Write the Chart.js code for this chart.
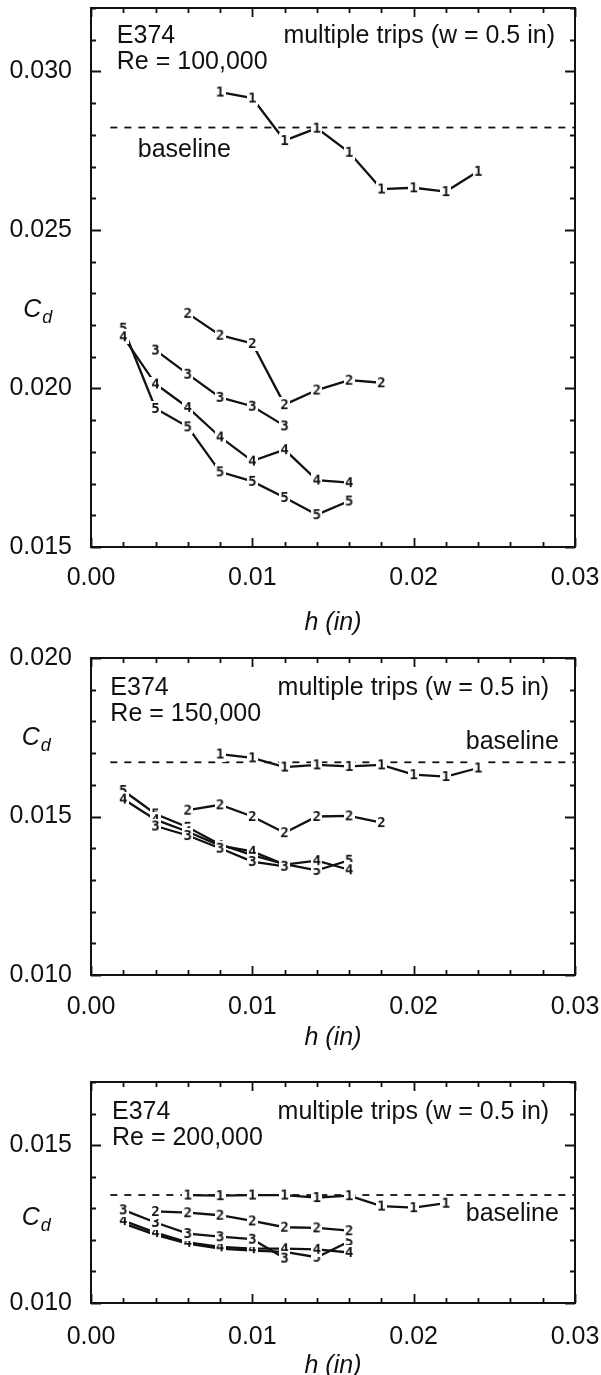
<!DOCTYPE html>
<html>
<head>
<meta charset="utf-8">
<script src="https://cdn.jsdelivr.net/npm/chart.js@4.4.1/dist/chart.umd.min.js"></script>
<style>
  html, body { margin: 0; padding: 0; background: #fff; }
  body { width: 601px; height: 1375px; position: relative; overflow: hidden; }
  canvas { position: absolute; left: 0; }
</style>
</head>
<body>
<canvas id="re100" width="601" height="650" style="top:0px"></canvas>
<canvas id="re150" width="601" height="420" style="top:645px"></canvas>
<canvas id="re200" width="601" height="330" style="top:1060px"></canvas>
<script>
// C_d vs trip height h for the E374 airfoil with multiple trips, three Reynolds numbers.
// Each trip count is drawn as its own digit marker joined by straight lines.

// shared axis values
const X_TICKS = [0, 0.01, 0.02, 0.03];
const X_MINOR_STEP = 0.002;
const Y_MINOR_STEP = 0.001;

// Re = 100,000
const Y_TICKS_100K = [0.015, 0.020, 0.025, 0.030];
const BASELINE_100K = 0.02823;
const H_TRIP1_100K = [0.008, 0.010, 0.012, 0.014, 0.016, 0.018, 0.020, 0.022, 0.024];
const CD_TRIP1_100K = [0.02935, 0.02916, 0.02782, 0.02821, 0.02745, 0.02629, 0.02633, 0.02621, 0.02685];
const H_TRIP2_100K = [0.006, 0.008, 0.010, 0.012, 0.014, 0.016, 0.018];
const CD_TRIP2_100K = [0.02237, 0.02168, 0.02142, 0.01949, 0.01995, 0.02026, 0.02018];
const H_TRIP3_100K = [0.004, 0.006, 0.008, 0.010, 0.012];
const CD_TRIP3_100K = [0.02121, 0.02045, 0.01972, 0.01944, 0.01882];
const H_TRIP4_100K = [0.002, 0.004, 0.006, 0.008, 0.010, 0.012, 0.014, 0.016];
const CD_TRIP4_100K = [0.02163, 0.02014, 0.01940, 0.01847, 0.01771, 0.01807, 0.01711, 0.01703];
const H_TRIP5_100K = [0.002, 0.004, 0.006, 0.008, 0.010, 0.012, 0.014, 0.016];
const CD_TRIP5_100K = [0.02190, 0.01937, 0.01879, 0.01737, 0.01707, 0.01656, 0.01602, 0.01645];

// Re = 150,000
const Y_TICKS_150K = [0.010, 0.015, 0.020];
const BASELINE_150K = 0.01671;
const H_TRIP1_150K = [0.008, 0.010, 0.012, 0.014, 0.016, 0.018, 0.020, 0.022, 0.024];
const CD_TRIP1_150K = [0.01697, 0.01685, 0.01656, 0.01663, 0.01658, 0.01663, 0.01632, 0.01626, 0.01653];
const H_TRIP2_150K = [0.006, 0.008, 0.010, 0.012, 0.014, 0.016, 0.018];
const CD_TRIP2_150K = [0.01520, 0.01537, 0.01500, 0.01449, 0.01500, 0.01502, 0.01481];
const H_TRIP3_150K = [0.004, 0.006, 0.008, 0.010, 0.012];
const CD_TRIP3_150K = [0.01470, 0.01440, 0.01400, 0.01358, 0.01343];
const H_TRIP4_150K = [0.002, 0.004, 0.006, 0.008, 0.010, 0.012, 0.014, 0.016];
const CD_TRIP4_150K = [0.01555, 0.01490, 0.01452, 0.01408, 0.01390, 0.01348, 0.01361, 0.01332];
const H_TRIP5_150K = [0.002, 0.004, 0.006, 0.008, 0.010, 0.012, 0.014, 0.016];
const CD_TRIP5_150K = [0.01582, 0.01508, 0.01466, 0.01412, 0.01378, 0.01350, 0.01330, 0.01362];

// Re = 200,000
const Y_TICKS_200K = [0.010, 0.015];
const BASELINE_200K = 0.01342;
const H_TRIP1_200K = [0.006, 0.008, 0.010, 0.012, 0.014, 0.016, 0.018, 0.020, 0.022];
const CD_TRIP1_200K = [0.01342, 0.01340, 0.01342, 0.01342, 0.01334, 0.01340, 0.01307, 0.01302, 0.01316];
const H_TRIP2_200K = [0.004, 0.006, 0.008, 0.010, 0.012, 0.014, 0.016];
const CD_TRIP2_200K = [0.01290, 0.01286, 0.01278, 0.01260, 0.01240, 0.01238, 0.01229];
const H_TRIP3_200K = [0.002, 0.004, 0.006, 0.008, 0.010, 0.012];
const CD_TRIP3_200K = [0.01295, 0.01255, 0.01220, 0.01210, 0.01202, 0.01142];
const H_TRIP4_200K = [0.002, 0.004, 0.006, 0.008, 0.010, 0.012, 0.014, 0.016];
const CD_TRIP4_200K = [0.01261, 0.01223, 0.01192, 0.01178, 0.01172, 0.01172, 0.01170, 0.01160];
const H_TRIP5_200K = [0.002, 0.004, 0.006, 0.008, 0.010, 0.012, 0.014, 0.016];
const CD_TRIP5_200K = [0.01252, 0.01216, 0.01188, 0.01172, 0.01166, 0.01162, 0.01145, 0.01195];

const INK = '#111';
const SANS = '"Liberation Sans", Arial, sans-serif';
const TEXT_SIZE = 25;
const BOX_LEFT = 91;
const BOX_RIGHT = 575;

const markerCache = {};
function markerFor(digit) {
  if (markerCache[digit]) return markerCache[digit];
  const c = document.createElement('canvas');
  c.width = 11;
  c.height = 15;
  const g = c.getContext('2d');
  g.fillStyle = '#fff';
  g.fillRect(0, 0, c.width, c.height);
  g.fillStyle = INK;
  g.font = 'bold 14px "DejaVu Sans Mono", monospace';
  g.textAlign = 'center';
  g.textBaseline = 'middle';
  g.fillText(digit, c.width / 2, c.height / 2 + 1);
  markerCache[digit] = c;
  return c;
}

function tripDataset(digit, hs, cds) {
  return {
    label: `trips ${digit}`,
    data: hs.map((h, i) => ({ x: h, y: cds[i] })),
    borderColor: INK,
    borderWidth: 2.3,
    tension: 0,
    fill: false,
    pointStyle: markerFor(digit),
    pointRadius: 5,
    order: 0,
  };
}

function baselineDataset(value) {
  return {
    label: 'baseline',
    data: [{ x: 0.0012, y: value }, { x: 0.03, y: value }],
    borderColor: INK,
    borderWidth: 1.8,
    borderDash: [7, 7],
    pointRadius: 0,
    fill: false,
    order: 1,
  };
}

function isMajor(v, majors) {
  return majors.some((m) => Math.abs(m - v) < 1e-9);
}

// box, inward ticks on all four sides, C_d label and the text notes
const framePlugin = {
  id: 'frame',
  afterDraw(chart, args, opts) {
    const { ctx, chartArea: a, scales: { x, y } } = chart;
    ctx.save();
    ctx.strokeStyle = INK;
    ctx.lineWidth = 2;
    ctx.strokeRect(a.left, a.top, a.right - a.left, a.bottom - a.top);

    ctx.lineWidth = 1.8;
    ctx.beginPath();
    for (let i = 0; i * X_MINOR_STEP <= x.max + 1e-9; i++) {
      const v = i * X_MINOR_STEP;
      const px = Math.round(x.getPixelForValue(v)) + 0.5;
      const len = isMajor(v, X_TICKS) ? 9 : 5;
      ctx.moveTo(px, a.bottom); ctx.lineTo(px, a.bottom - len);
      ctx.moveTo(px, a.top); ctx.lineTo(px, a.top + len);
    }
    const n = Math.round((y.max - y.min) / Y_MINOR_STEP);
    for (let i = 0; i <= n; i++) {
      const v = +(y.min + i * Y_MINOR_STEP).toFixed(4);
      const py = Math.round(y.getPixelForValue(v)) + 0.5;
      const len = isMajor(v, opts.yTicks) ? 10 : 5;
      ctx.moveTo(a.left, py); ctx.lineTo(a.left + len, py);
      ctx.moveTo(a.right, py); ctx.lineTo(a.right - len, py);
    }
    ctx.stroke();

    // C_d axis label
    ctx.fillStyle = INK;
    ctx.textBaseline = 'alphabetic';
    ctx.textAlign = 'left';
    const cx = x.getPixelForValue(opts.cdAt.x);
    const cy = y.getPixelForValue(opts.cdAt.y);
    ctx.font = `italic 25px ${SANS}`;
    ctx.fillText('C', cx, cy + 8);
    const cw = ctx.measureText('C').width;
    ctx.font = `italic 18px ${SANS}`;
    ctx.fillText('d', cx + cw + 1, cy + 14);

    ctx.font = `${TEXT_SIZE}px ${SANS}`;
    ctx.textBaseline = 'middle';
    for (const note of opts.notes) {
      ctx.textAlign = note.align;
      ctx.fillText(note.text, x.getPixelForValue(note.x), y.getPixelForValue(note.y));
    }
    ctx.restore();
  },
};

function buildPanel(id, p) {
  const canvas = document.getElementById(id);
  const H = canvas.height;
  return new Chart(canvas.getContext('2d'), {
    type: 'line',
    data: { datasets: [...p.series, baselineDataset(p.baseline)] },
    options: {
      responsive: false,
      animation: false,
      events: [],
      layout: { padding: { top: p.boxTop, right: 601 - BOX_RIGHT, left: 0, bottom: 0 } },
      scales: {
        x: {
          type: 'linear',
          min: 0,
          max: 0.03,
          grid: { display: false, drawTicks: false },
          border: { display: false },
          afterBuildTicks: (s) => { s.ticks = X_TICKS.map((v) => ({ value: v })); },
          afterFit: (s) => { s.height = H - p.boxBottom; s.paddingLeft = 0; s.paddingRight = 0; },
          ticks: {
            autoSkip: false,
            maxRotation: 0,
            padding: p.xLabelPad,
            color: INK,
            font: { family: SANS, size: TEXT_SIZE },
            callback: (v) => v.toFixed(2),
          },
          title: {
            display: true,
            text: 'h (in)',
            color: INK,
            font: { family: SANS, size: TEXT_SIZE, style: 'italic' },
            padding: { top: 0, bottom: p.titlePad },
          },
        },
        y: {
          type: 'linear',
          min: p.yMin,
          max: p.yMax,
          grid: { display: false, drawTicks: false },
          border: { display: false },
          afterBuildTicks: (s) => { s.ticks = p.yTicks.map((v) => ({ value: v })); },
          afterFit: (s) => { s.width = BOX_LEFT; s.paddingTop = 0; s.paddingBottom = 0; },
          ticks: {
            padding: 19,
            color: INK,
            font: { family: SANS, size: TEXT_SIZE },
            callback: (v) => v.toFixed(3),
          },
        },
      },
      plugins: {
        legend: { display: false },
        tooltip: { enabled: false },
        frame: { yTicks: p.yTicks, cdAt: p.cdAt, notes: p.notes },
      },
    },
    plugins: [framePlugin],
  });
}

buildPanel('re100', {
  yMin: 0.015, yMax: 0.032, yTicks: Y_TICKS_100K,
  boxTop: 8, boxBottom: 547, xLabelPad: 16, titlePad: 12,
  baseline: BASELINE_100K,
  series: [
    tripDataset('1', H_TRIP1_100K, CD_TRIP1_100K),
    tripDataset('2', H_TRIP2_100K, CD_TRIP2_100K),
    tripDataset('3', H_TRIP3_100K, CD_TRIP3_100K),
    tripDataset('4', H_TRIP4_100K, CD_TRIP4_100K),
    tripDataset('5', H_TRIP5_100K, CD_TRIP5_100K),
  ],
  cdAt: { x: -0.0042, y: 0.0225 },
  notes: [
    { text: 'E374', x: 0.0016, y: 0.03110, align: 'left' },
    { text: 'Re = 100,000', x: 0.0016, y: 0.03030, align: 'left' },
    { text: 'multiple trips (w = 0.5 in)', x: 0.02876, y: 0.03110, align: 'right' },
    { text: 'baseline', x: 0.0029, y: 0.02751, align: 'left' },
  ],
});

buildPanel('re150', {
  yMin: 0.010, yMax: 0.020, yTicks: Y_TICKS_150K,
  boxTop: 13, boxBottom: 330, xLabelPad: 17, titlePad: 12,
  baseline: BASELINE_150K,
  series: [
    tripDataset('1', H_TRIP1_150K, CD_TRIP1_150K),
    tripDataset('2', H_TRIP2_150K, CD_TRIP2_150K),
    tripDataset('3', H_TRIP3_150K, CD_TRIP3_150K),
    tripDataset('4', H_TRIP4_150K, CD_TRIP4_150K),
    tripDataset('5', H_TRIP5_150K, CD_TRIP5_150K),
  ],
  cdAt: { x: -0.0043, y: 0.01751 },
  notes: [
    { text: 'E374', x: 0.0012, y: 0.01906, align: 'left' },
    { text: 'Re = 150,000', x: 0.0012, y: 0.01824, align: 'left' },
    { text: 'multiple trips (w = 0.5 in)', x: 0.0284, y: 0.01906, align: 'right' },
    { text: 'baseline', x: 0.0290, y: 0.01736, align: 'right' },
  ],
});

buildPanel('re200', {
  yMin: 0.010, yMax: 0.017, yTicks: Y_TICKS_200K,
  boxTop: 22, boxBottom: 243, xLabelPad: 19, titlePad: 9,
  baseline: BASELINE_200K,
  series: [
    tripDataset('1', H_TRIP1_200K, CD_TRIP1_200K),
    tripDataset('2', H_TRIP2_200K, CD_TRIP2_200K),
    tripDataset('3', H_TRIP3_200K, CD_TRIP3_200K),
    tripDataset('4', H_TRIP4_200K, CD_TRIP4_200K),
    tripDataset('5', H_TRIP5_200K, CD_TRIP5_200K),
  ],
  cdAt: { x: -0.0043, y: 0.01273 },
  notes: [
    { text: 'E374', x: 0.0013, y: 0.01604, align: 'left' },
    { text: 'Re = 200,000', x: 0.0013, y: 0.01522, align: 'left' },
    { text: 'multiple trips (w = 0.5 in)', x: 0.0284, y: 0.01604, align: 'right' },
    { text: 'baseline', x: 0.0290, y: 0.01282, align: 'right' },
  ],
});
</script>
</body>
</html>
